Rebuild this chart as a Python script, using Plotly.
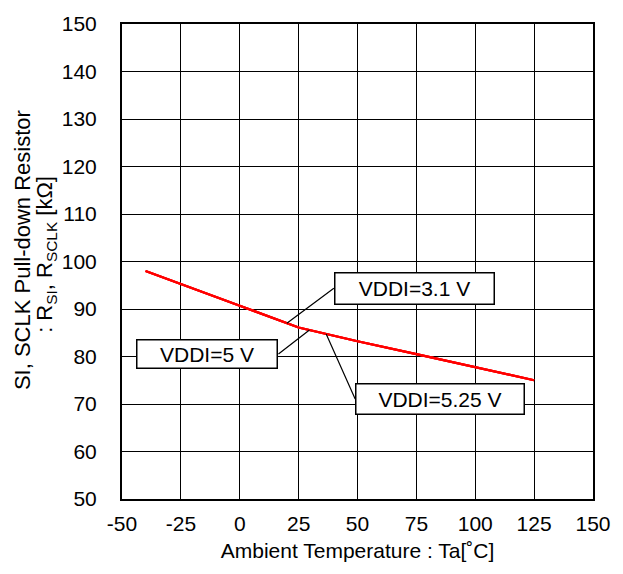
import numpy as np
import plotly.graph_objects as go

# Pull-down resistance vs. ambient temperature
temp_c = [-40, -25, 0, 25, 50, 75, 100, 125]
r_vddi_3v1 = [98.0, 95.2, 90.7, 86.1, 83.2, 80.5, 77.7, 75.0]
r_vddi_5v = [98.0, 95.2, 90.7, 86.1, 83.2, 80.5, 77.7, 75.0]
r_vddi_5v25 = [98.0, 95.2, 90.7, 86.1, 83.2, 80.5, 77.7, 75.0]

series_names = ["VDDI=3.1 V", "VDDI=5 V", "VDDI=5.25 V"]
series_values = [r_vddi_3v1, r_vddi_5v, r_vddi_5v25]

x_ticks = [-50, -25, 0, 25, 50, 75, 100, 125, 150]
x_tick_text = ["-50", "-25", "0", "25", "50", "75", "100", "125", "150"]
y_ticks = [50, 60, 70, 80, 90, 100, 110, 120, 130, 140, 150]
y_tick_text = [str(v) for v in y_ticks]

x_title = "Ambient Temperature : Ta[˚C]"
y_title_lines = ["SI, SCLK Pull-down Resistor",
                 ": R<sub>SI</sub>, R<sub>SCLK</sub> [kΩ]"]

# Where each label's leader line touches the curve (temperature)
label_touch_temp = [20, 29.6, 36.7]

FONT = "Liberation Sans, Arial, sans-serif"

fig = go.Figure()
for name, vals in zip(series_names, series_values):
    fig.add_trace(go.Scatter(
        x=temp_c, y=vals, mode="lines", name=name,
        line=dict(color="#ff0000", width=2.2),
        showlegend=False,
    ))

# Label boxes with leader lines: tail offset (px), anchor side, box size
label_style = [
    dict(ax=47, ay=-35, xanchor="left", width=156, height=28),
    dict(ax=-31, ay=24, xanchor="right", width=137, height=25),
    dict(ax=29, ay=65, xanchor="left", width=165, height=27),
]
for name, vals, tx, st in zip(series_names, series_values, label_touch_temp, label_style):
    ty = float(np.interp(tx, temp_c, vals))
    fig.add_annotation(
        x=tx, y=ty, xref="x", yref="y",
        text=name, showarrow=True, arrowhead=0, arrowwidth=1.2,
        arrowcolor="black", standoff=0,
        ax=st["ax"], ay=st["ay"], xanchor=st["xanchor"], yanchor="middle",
        width=st["width"], height=st["height"], align="center",
        bgcolor="white", bordercolor="black", borderwidth=1.5, borderpad=1,
        font=dict(family=FONT, size=21, color="black"),
    )

# Two-line rotated y-axis title
for text, xshift, ypos in zip(y_title_lines, [-100, -76], [0.524, 0.514]):
    fig.add_annotation(
        x=0, y=ypos, xref="paper", yref="paper", xshift=xshift,
        text=text, textangle=-90, showarrow=False,
        xanchor="center", yanchor="middle",
        font=dict(family=FONT, size=22, color="black"),
    )

fig.update_layout(
    width=623, height=574,
    margin=dict(l=122, r=21, t=14, b=75),
    paper_bgcolor="white", plot_bgcolor="white",
    font=dict(family=FONT, size=21, color="black"),
)
fig.update_xaxes(
    range=[-50, 150], tickvals=x_ticks, ticktext=x_tick_text,
    showgrid=True, gridcolor="black", gridwidth=1,
    showline=True, linecolor="black", linewidth=2, mirror=True,
    ticks="inside", ticklen=5, tickcolor="black",
    ticklabelstandoff=5, zeroline=False,
    tickfont=dict(family=FONT, size=21),
    title=dict(text=x_title, standoff=9, font=dict(family=FONT, size=21)),
)
fig.update_yaxes(
    range=[50, 150], tickvals=y_ticks, ticktext=y_tick_text,
    showgrid=True, gridcolor="black", gridwidth=1,
    showline=True, linecolor="black", linewidth=2, mirror=True,
    ticks="inside", ticklen=5, tickcolor="black",
    ticklabelstandoff=19, zeroline=False,
    tickfont=dict(family=FONT, size=21),
)

fig.write_html("out.html")
